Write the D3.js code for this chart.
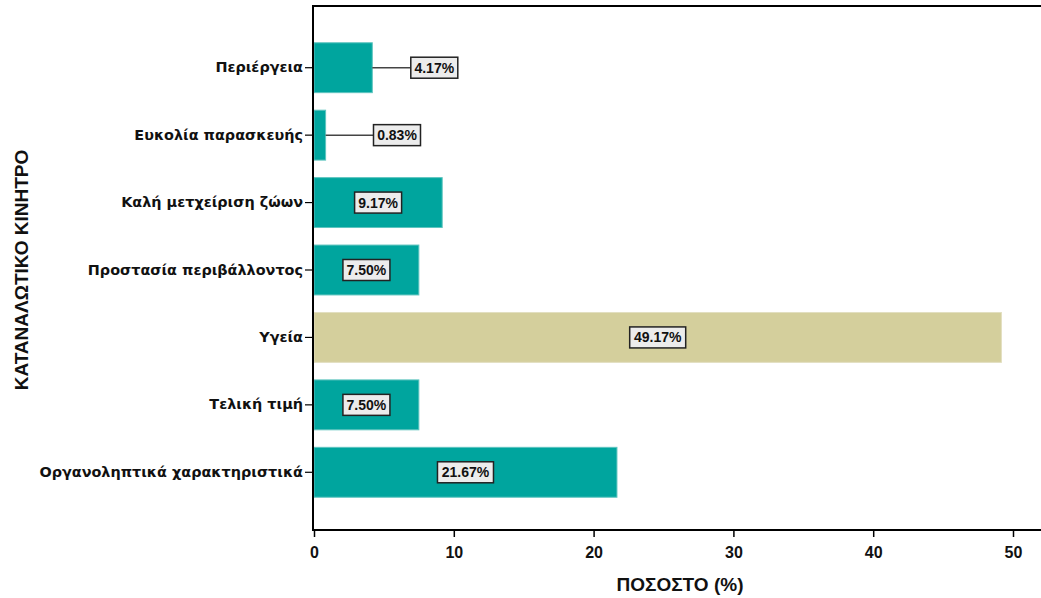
<!DOCTYPE html>
<html><head><meta charset="utf-8">
<script src="https://cdn.jsdelivr.net/npm/d3@7"></script>
<style>body{margin:0;background:#fff}svg{display:block}</style>
</head><body>
<svg id="c" width="1041" height="598"></svg>
<script>
const categories = ["Περιέργεια","Ευκολία παρασκευής","Καλή μετχείριση ζώων","Προστασία περιβάλλοντος","Υγεία","Τελική τιμή","Οργανοληπτικά χαρακτηριστικά"];
const values = [4.17, 0.83, 9.17, 7.50, 49.17, 7.50, 21.67];
const highlight = ["Υγεία"];
const xTicks = [0,10,20,30,40,50];
const xTitle = "ΠΟΣΟΣΤΟ (%)";
const yTitle = "ΚΑΤΑΝΑΛΩΤΙΚΟ ΚΙΝΗΤΡΟ";

(function(){
const svg = d3.select("#c");
const pL = 314, pR = 1041, pT = 6, pB = 530;
const x = d3.scaleLinear().domain([0,50]).range([pL, 1013]);
const y = d3.scaleBand().domain(categories).range([34, 506]).paddingInner(0.26).paddingOuter(0.13);
const font = "'Liberation Sans', Arial, sans-serif";
const catFont = "'DejaVu Sans', Verdana, sans-serif";

// bars
svg.selectAll("rect.bar").data(categories).join("rect")
  .attr("x", x(0)).attr("y", d => y(d))
  .attr("width", (d,i) => x(values[i]) - x(0)).attr("height", y.bandwidth())
  .attr("fill", d => highlight.includes(d) ? "#d4cf9c" : "#00a59e")
  .attr("stroke", d => highlight.includes(d) ? "#e2dfc0" : "#5ec4bf").attr("stroke-width", 1);

// frame
svg.append("line").attr("x1", pL-1).attr("x2", pR).attr("y1", pT).attr("y2", pT).attr("stroke","#000").attr("stroke-width",2);

// x axis
const gx = svg.append("g").attr("transform", `translate(0,${pB})`)
  .call(d3.axisBottom(x).tickValues(xTicks).tickSize(7).tickSizeOuter(0).tickPadding(10));
gx.select(".domain").remove();
gx.append("line").attr("x1", pL-1).attr("x2", pR).attr("y1",0).attr("y2",0).attr("stroke","#000").attr("stroke-width",2);
gx.selectAll(".tick line").attr("stroke","#000").attr("stroke-width",1.5);
gx.selectAll("text").attr("font-family", font).attr("font-size", 16).attr("font-weight","bold").attr("fill","#111");

// y axis
const gy = svg.append("g").attr("transform", `translate(${pL},0)`)
  .call(d3.axisLeft(y).tickSize(9).tickSizeOuter(0).tickPadding(2));
gy.select(".domain").remove();
gy.append("line").attr("x1",-1).attr("x2",-1).attr("y1", pT-1).attr("y2", pB+1).attr("stroke","#000").attr("stroke-width",2);
gy.selectAll(".tick line").attr("stroke","#000").attr("stroke-width",1.2);
gy.selectAll("text").attr("font-family", catFont).attr("font-size", 14.4).attr("font-weight","bold").attr("fill","#111");

// value labels
const bh = 21;
categories.forEach((c,i) => {
  const v = values[i];
  const cy = y(c) + y.bandwidth()/2;
  const inside = (x(v) - x(0)) > 70;
  const w = v >= 10 ? 56 : 47;
  const cx = inside ? (x(0) + x(v))/2 : Math.max(x(v) + 62, x(0) + 83);
  if (!inside) {
    svg.append("line").attr("x1", x(v)).attr("x2", cx - w/2).attr("y1", cy).attr("y2", cy)
      .attr("stroke","#444").attr("stroke-width",1.5);
  }
  svg.append("rect").attr("x", cx - w/2).attr("y", cy - bh/2).attr("width", w).attr("height", bh)
    .attr("fill","#ececec").attr("stroke","#222").attr("stroke-width",1.5);
  svg.append("text").attr("x", cx).attr("y", cy + 5).attr("text-anchor","middle")
    .attr("font-family", font).attr("font-size", 14).attr("font-weight","bold").attr("fill","#111")
    .text(v.toFixed(2) + "%");
});

// titles
svg.append("text").attr("x", 680).attr("y", 591).attr("text-anchor","middle")
  .attr("font-family", font).attr("font-size", 19).attr("font-weight","bold").attr("fill","#111").text(xTitle);
svg.append("text").attr("transform", "translate(28,270) rotate(-90)").attr("text-anchor","middle")
  .attr("font-family", font).attr("font-size", 19).attr("font-weight","bold").attr("fill","#111").text(yTitle);
})();
</script>
</body></html>
